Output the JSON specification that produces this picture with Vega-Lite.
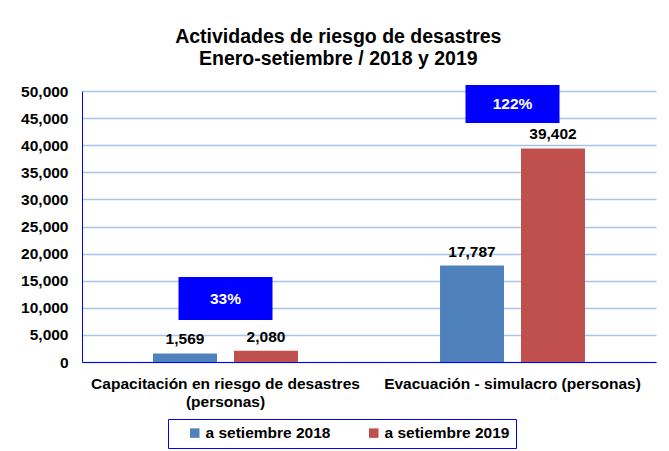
{
  "$schema": "https://vega.github.io/schema/vega-lite/v6.json",
  "width": 574,
  "height": 271,
  "autosize": {"type": "none"},
  "padding": {"left": 82, "top": 91, "right": 13, "bottom": 89},
  "background": "white",
  "title": {
    "text": ["Actividades de riesgo de desastres", "Enero-setiembre / 2018 y 2019"],
    "font": "Liberation Sans",
    "fontSize": 19.5,
    "fontWeight": "bold",
    "color": "#000000",
    "anchor": "middle",
    "frame": "bounds",
    "offset": 15,
    "lineHeight": 22
  },
  "config": {"view": {"stroke": null}, "font": "Liberation Sans"},
  "datasets": {
    "bars": [
      {"cat": "Capacitación en riesgo de desastres (personas)", "serie": "a setiembre 2018", "value": 1569},
      {"cat": "Capacitación en riesgo de desastres (personas)", "serie": "a setiembre 2019", "value": 2080},
      {"cat": "Evacuación - simulacro (personas)", "serie": "a setiembre 2018", "value": 17787},
      {"cat": "Evacuación - simulacro (personas)", "serie": "a setiembre 2019", "value": 39402}
    ],
    "boxes": [
      {"cat": "Capacitación en riesgo de desastres (personas)", "ylo": 7750, "yhi": 15700, "ymid": 11700, "label": "33%"},
      {"cat": "Evacuación - simulacro (personas)", "ylo": 44100, "yhi": 51100, "ymid": 47600, "label": "122%"}
    ]
  },
  "encoding": {
    "x": {
      "field": "cat",
      "type": "nominal",
      "sort": ["Capacitación en riesgo de desastres (personas)", "Evacuación - simulacro (personas)"],
      "scale": {"paddingInner": 0, "paddingOuter": 0},
      "axis": {
        "title": null,
        "labelAngle": 0,
        "labelFont": "Liberation Sans",
        "labelFontSize": 15.5,
        "labelFontWeight": "bold",
        "labelColor": "#000000",
        "labelPadding": 14,
        "labelLimit": 400,
        "labelLineHeight": 18,
        "ticks": false,
        "domainColor": "#0000FF",
        "domainWidth": 1,
        "labelExpr": "indexof(datum.value, 'Capacitación') == 0 ? ['Capacitación en riesgo de desastres', '(personas)'] : datum.value"
      }
    }
  },
  "layer": [
    {
      "data": {"name": "bars"},
      "mark": {"type": "bar"},
      "encoding": {
        "xOffset": {"field": "serie", "type": "nominal", "scale": {"paddingInner": 0.21, "paddingOuter": 0.877}},
        "y": {
          "field": "value",
          "type": "quantitative",
          "scale": {"domain": [0, 50000], "nice": false},
          "axis": {
            "title": null,
            "values": [0, 5000, 10000, 15000, 20000, 25000, 30000, 35000, 40000, 45000, 50000],
            "format": ",.0f",
            "labelOverlap": false,
            "labelFont": "Liberation Sans",
            "labelFontSize": 15.5,
            "labelFontWeight": "bold",
            "labelColor": "#000000",
            "labelPadding": 14,
            "ticks": false,
            "domainColor": "#0000FF",
            "domainWidth": 1,
            "gridColor": "#A6C4EC",
            "gridWidth": 1.3
          }
        },
        "color": {
          "field": "serie",
          "type": "nominal",
          "scale": {"domain": ["a setiembre 2018", "a setiembre 2019"], "range": ["#4F81BD", "#C0504D"]},
          "legend": {
            "orient": "none",
            "legendX": 86,
            "legendY": 328,
            "direction": "horizontal",
            "title": null,
            "strokeColor": "#0000FF",
            "padding": 6,
            "symbolType": "square",
            "symbolSize": 90,
            "symbolStrokeWidth": 0,
            "symbolOffset": 13,
            "labelFont": "Liberation Sans",
            "labelFontSize": 15.5,
            "labelFontWeight": "bold",
            "labelColor": "#000000",
            "labelOffset": 3,
            "columnPadding": 22
          }
        }
      }
    },
    {
      "data": {"name": "bars"},
      "mark": {"type": "text", "baseline": "bottom", "dy": -6, "fontSize": 15.5, "fontWeight": "bold", "font": "Liberation Sans", "color": "#000000"},
      "encoding": {
        "xOffset": {"field": "serie", "type": "nominal"},
        "y": {
          "field": "value",
          "type": "quantitative",
          "axis": {
            "title": null,
            "values": [0, 5000, 10000, 15000, 20000, 25000, 30000, 35000, 40000, 45000, 50000],
            "format": ",.0f",
            "labelOverlap": false,
            "labelFont": "Liberation Sans",
            "labelFontSize": 15.5,
            "labelFontWeight": "bold",
            "labelColor": "#000000",
            "labelPadding": 14,
            "ticks": false,
            "domainColor": "#0000FF",
            "domainWidth": 1,
            "gridColor": "#A6C4EC",
            "gridWidth": 1.3
          }
        },
        "text": {"field": "value", "type": "quantitative", "format": ","}
      }
    },
    {
      "data": {"name": "boxes"},
      "mark": {"type": "bar", "width": 94, "color": "#0000FF"},
      "encoding": {
        "y": {
          "field": "ylo",
          "type": "quantitative",
          "axis": {
            "title": null,
            "values": [0, 5000, 10000, 15000, 20000, 25000, 30000, 35000, 40000, 45000, 50000],
            "format": ",.0f",
            "labelOverlap": false,
            "labelFont": "Liberation Sans",
            "labelFontSize": 15.5,
            "labelFontWeight": "bold",
            "labelColor": "#000000",
            "labelPadding": 14,
            "ticks": false,
            "domainColor": "#0000FF",
            "domainWidth": 1,
            "gridColor": "#A6C4EC",
            "gridWidth": 1.3
          }
        },
        "y2": {"field": "yhi"}
      }
    },
    {
      "data": {"name": "boxes"},
      "mark": {"type": "text", "baseline": "middle", "fontSize": 15.5, "fontWeight": "bold", "font": "Liberation Sans", "color": "#FFFFFF"},
      "encoding": {
        "y": {
          "field": "ymid",
          "type": "quantitative",
          "axis": {
            "title": null,
            "values": [0, 5000, 10000, 15000, 20000, 25000, 30000, 35000, 40000, 45000, 50000],
            "format": ",.0f",
            "labelOverlap": false,
            "labelFont": "Liberation Sans",
            "labelFontSize": 15.5,
            "labelFontWeight": "bold",
            "labelColor": "#000000",
            "labelPadding": 14,
            "ticks": false,
            "domainColor": "#0000FF",
            "domainWidth": 1,
            "gridColor": "#A6C4EC",
            "gridWidth": 1.3
          }
        },
        "text": {"field": "label", "type": "nominal"}
      }
    }
  ]
}
